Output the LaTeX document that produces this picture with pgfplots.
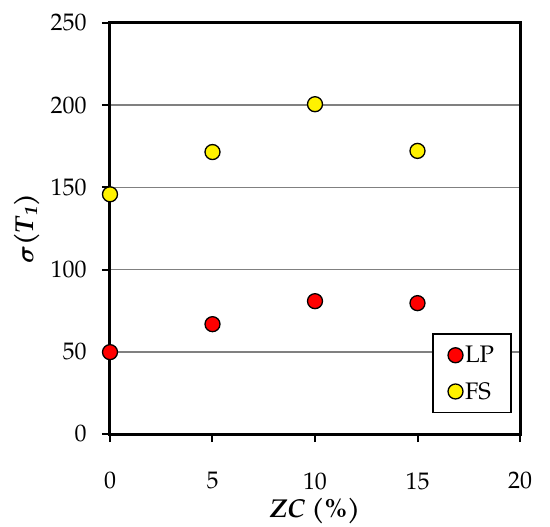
\documentclass[border=0pt]{standalone}
\usepackage{fontspec}
\setmainfont{TeX Gyre Pagella}
\usepackage{bm}
\usepackage{pgfplots}
\pgfplotsset{compat=1.18}
\begin{document}
\begin{tikzpicture}
\begin{axis}[name=ax, at={(0,0)}, anchor=south west,
  scale only axis, width=410bp, height=411bp,
  xmin=0, xmax=20, ymin=0, ymax=250,
  xtick={0,5,10,15,20}, ytick={0,50,100,150,200,250},
  tick pos=left, tick align=outside, major tick length=8bp,
  axis line style={line width=3bp, black},
  tick style={line width=2bp, black},
  ymajorgrids, grid style={color=black!50, line width=1.4bp},
  /pgf/number format/assume math mode=true,
  tick label style={font=\fontsize{24}{27}\selectfont},
  xticklabel style={yshift=-27bp},
  yticklabel style={xshift=-12bp},
  xlabel={\textbf{\textit{ZC} (\%)}},
  ylabel={$\bm{\sigma}$\textbf{(\textit{T}\textsubscript{\textit{1}})}},
  xlabel style={font=\fontsize{26}{29}\selectfont, yshift=-2bp},
  ylabel style={font=\fontsize{26}{29}\selectfont, yshift=4bp},
  clip=false,
  legend style={at={(rel axis cs:0.98,0.05)}, anchor=south east, draw=black, line width=1.5bp,
    font=\fontsize{24}{27}\selectfont, row sep=14bp, inner xsep=15bp, inner ysep=10bp,
    legend cell align=left},
  legend image code/.code={\draw[mark repeat=2,mark phase=2,#1] plot coordinates {(0cm,0cm) (0.2cm,0cm) (0.4cm,0cm)};},
]
\addplot[only marks, mark=*, mark size=7.5bp, mark options={draw=black, fill=red, line width=1.3bp}]
  coordinates {(0,49.8) (5,66.8) (10,80.8) (15,79.6)};
\addlegendentry{LP}
\addplot[only marks, mark=*, mark size=7.5bp, mark options={draw=black, fill=yellow, line width=1.3bp}]
  coordinates {(0,145.8) (5,171.5) (10,200.6) (15,172.2)};
\addlegendentry{FS}
\end{axis}
\pgfresetboundingbox
\path[use as bounding box] (-110bp,-93bp) rectangle (440bp,434bp);
\end{tikzpicture}
\end{document}
